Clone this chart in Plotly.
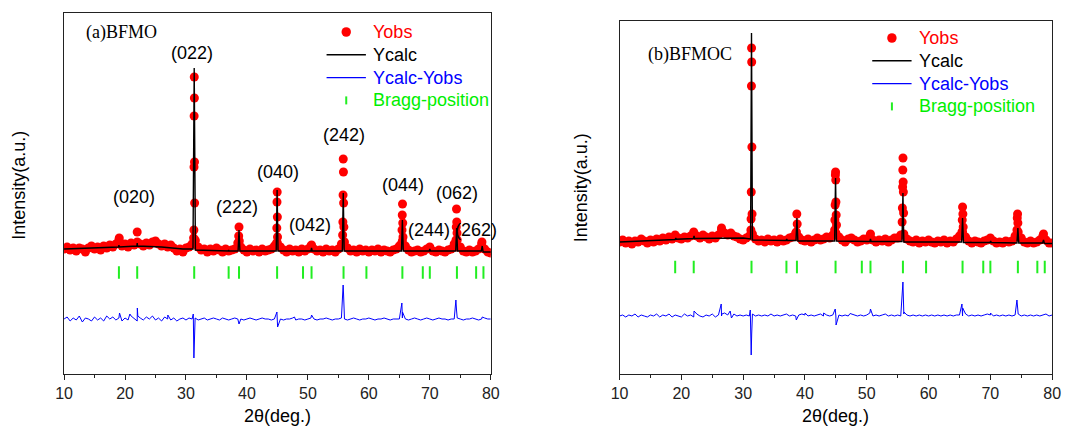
import numpy as np
import plotly.graph_objects as go

# 2-theta scan grid (deg) shared by both patterns
two_theta = np.round(np.arange(10.0, 80.001, 0.5), 2)

# ---------------- (a) BFMO ----------------
obs_a_base = [
    125, 127, 124, 126, 123, 126, 125, 122, 126, 128,
    125, 127, 124, 128, 126, 129, 127, 130, 134, 128,
    130, 127, 131, 129, 132, 130, 128, 131, 129, 132,
    133, 130, 128, 130, 127, 129, 126, 123, 125, 122,
    126, 127, 130, 133, 127, 124, 125, 122, 125, 123,
    126, 124, 122, 125, 123, 124, 125, 131, 127, 124,
    122, 125, 123, 124, 122, 125, 123, 124, 125, 128,
    131, 127, 124, 122, 125, 123, 124, 122, 125, 123,
    125, 128, 125, 123, 124, 122, 125, 123, 124, 122,
    125, 130, 132, 126, 123, 124, 122, 125, 123, 124,
    122, 124, 123, 125, 122, 124, 123, 122, 124, 125,
    128, 133, 128, 124, 122, 123, 124, 122, 123, 125,
    127, 123, 122, 124, 123, 122, 124, 125, 130, 134,
    127, 123, 122, 124, 122, 123, 125, 130, 125, 122,
    121,
]
obs_a_peak_x = [19.05, 22.0,
                31.25, 31.30, 31.32, 31.34, 31.36, 31.38, 31.40, 31.42, 31.50,
                38.65, 38.70, 38.75,
                44.85, 44.90, 44.93, 44.96, 44.99, 45.02,
                50.60,
                55.70, 55.74, 55.77, 55.80, 55.83, 55.86, 55.90,
                65.40, 65.44, 65.48, 65.52, 65.56, 65.60,
                74.30, 74.34, 74.38, 74.42, 74.46, 74.50,
                78.55]
obs_a_peak_y = [136, 142,
                136, 144, 207, 258, 297, 276, 212, 171, 134,
                138, 147, 133,
                131, 146, 172, 182, 157, 137,
                129,
                139, 152, 179, 215, 202, 171, 147,
                131, 144, 159, 170, 151, 137,
                134, 147, 165, 152, 141, 127,
                132]

calc_a_x = [10, 14, 18, 18.95, 19.0, 19.05, 21.95, 22.0, 22.05, 26, 29.5,
            31.15, 31.35, 31.55, 36.95, 37.0, 37.05, 38.55, 38.7, 38.85,
            44.8, 44.95, 45.1, 49.2, 50.5, 50.6, 50.7, 55.65, 55.8, 55.95,
            65.35, 65.5, 65.65, 69.9, 70.0, 70.1, 74.25, 74.4, 74.55,
            78.45, 78.6, 78.75, 80]
calc_a_y = [125, 126, 127, 127, 129, 127, 128, 131, 128, 127, 125,
            125, 306, 124, 123, 124, 123, 123, 144, 123,
            123, 184, 123, 123, 123, 126, 123, 123, 181, 123,
            123, 154, 123, 123, 125, 123, 123, 146, 123,
            123, 128, 122, 122]

diff_a_base = [
    55, 57, 53, 56, 54, 58, 52, 56, 55, 53,
    57, 54, 56, 53, 58, 55, 57, 54, 56, 53,
    56, 54, 58, 55, 53, 56, 54, 57, 55, 58,
    54, 56, 53, 57, 55, 54, 56, 53, 55, 56,
    54, 56, 55, 56, 54, 55, 56, 54, 55, 56,
    55, 54, 56, 55, 54, 55, 56, 55, 55, 54,
    55, 56, 55, 54, 55, 56, 55, 55, 54, 55,
    56, 55, 54, 55, 55, 56, 54, 55, 55, 54,
    55, 56, 55, 54, 55, 55, 56, 55, 54, 55,
    55, 56, 55, 54, 55, 56, 55, 54, 55, 55,
    56, 55, 54, 55, 55, 56, 55, 54, 55, 55,
    55, 56, 55, 54, 55, 56, 55, 54, 55, 56,
    55, 54, 55, 56, 55, 55, 54, 55, 55, 56,
    55, 54, 55, 55, 56, 55, 54, 55, 56, 55,
    55,
]
diff_a_spike_x = [19.1, 20.8, 22.02, 22.1, 27.02, 31.2, 31.3, 31.36, 31.42,
                  38.7, 44.92, 45.03, 47.8, 50.6, 55.78, 55.85, 55.92,
                  65.42, 65.52, 74.28, 74.38, 78.6]
diff_a_spike_y = [61, 60, 66, 58, 59, 60, 16, 30, 52,
                  50, 62, 47, 57, 59, 89, 80, 63,
                  71, 62, 74, 64, 57]

# ---------------- (b) BFMOC ----------------
obs_b_base = [
    132, 134, 131, 133, 130, 133, 132, 135, 133, 131,
    134, 132, 135, 133, 136, 134, 137, 135, 139, 136,
    135, 137, 136, 138, 142, 138, 136, 139, 137, 135,
    138, 136, 139, 144, 141, 139, 141, 138, 137, 135,
    134, 136, 138, 140, 135, 133, 134, 132, 135, 133,
    134, 132, 135, 133, 134, 136, 137, 141, 137, 134,
    133, 135, 132, 134, 136, 134, 135, 137, 136, 139,
    141, 137, 134, 132, 135, 136, 134, 132, 133, 135,
    134, 138, 134, 132, 134, 133, 135, 132, 134, 136,
    136, 139, 140, 135, 133, 132, 134, 131, 133, 132,
    134, 132, 131, 133, 132, 134, 131, 133, 132, 135,
    138, 142, 137, 133, 131, 133, 132, 131, 133, 134,
    136, 133, 131, 132, 131, 133, 132, 133, 138, 142,
    136, 132, 131, 133, 131, 132, 134, 138, 134, 131,
    131,
]
obs_b_peak_x = [26.5,
                31.25, 31.28, 31.31, 31.34, 31.36, 31.38, 31.41, 31.44,
                38.62, 38.68, 38.74,
                44.80, 44.84, 44.88, 44.92, 44.95, 44.98, 45.01, 45.05, 45.10,
                50.60,
                55.72, 55.76, 55.80, 55.83, 55.86, 55.89, 55.92, 55.96,
                65.40, 65.45, 65.50, 65.55, 65.60,
                74.30, 74.35, 74.40, 74.45, 74.50,
                78.60]
obs_b_peak_y = [146,
                144, 155, 182, 288, 326, 312, 227, 160,
                142, 160, 150,
                144, 154, 169, 199, 202, 194, 172, 159, 149,
                140,
                152, 166, 187, 204, 216, 192, 182, 161,
                142, 154, 167, 160, 147,
                144, 156, 160, 151, 137,
                140]

calc_b_x = [10, 15, 19.0, 19.1, 19.2, 21.95, 22.05, 22.15, 26, 30,
            31.2, 31.35, 31.5, 36.95, 37.05, 37.15, 38.55, 38.7, 38.85,
            44.8, 44.95, 45.1, 50.5, 50.6, 50.7, 55.7, 55.85, 56.0,
            65.35, 65.5, 65.65, 69.95, 70.05, 70.15, 74.3, 74.45, 74.6,
            78.45, 78.6, 78.75, 80]
calc_b_y = [132, 133, 134.5, 136, 134.8, 135.5, 138, 135.5, 136, 136,
            135, 341, 134, 133.5, 135, 133.5, 133.5, 156, 133,
            133, 196, 133, 132.5, 135, 132.5, 132.5, 181, 132,
            132, 156, 131.5, 131.5, 133, 131.5, 131, 146, 131,
            131, 134, 130.5, 130.5]

diff_b_base = [
    58, 59, 57, 59, 58, 60, 57, 59, 58, 57,
    59, 58, 60, 57, 59, 58, 60, 57, 59, 58,
    57, 60, 58, 59, 57, 60, 58, 57, 59, 58,
    60, 57, 59, 58, 61, 59, 57, 60, 58, 59,
    58, 59, 58, 60, 58, 59, 58, 59, 58, 60,
    58, 59, 58, 59, 60, 58, 59, 58, 59, 60,
    59, 58, 59, 58, 59, 60, 58, 59, 58, 59,
    58, 59, 58, 59, 58, 60, 59, 58, 59, 58,
    59, 61, 58, 59, 58, 59, 60, 58, 59, 58,
    59, 58, 60, 59, 58, 59, 58, 59, 58, 59,
    58, 59, 58, 59, 58, 59, 58, 59, 58, 59,
    59, 58, 60, 58, 59, 58, 59, 58, 59, 60,
    59, 58, 59, 58, 59, 58, 59, 58, 59, 60,
    58, 59, 58, 59, 58, 59, 58, 59, 60, 58,
    59,
]
diff_b_spike_x = [22.05, 26.45, 26.55, 27.9, 28.1, 31.15, 31.3, 31.38, 31.45,
                  38.6, 40.02, 43.02, 44.9, 45.03, 47.3, 50.6, 55.85, 55.93,
                  56.02, 65.4, 65.52, 70.02, 74.3, 74.4]
diff_b_spike_y = [63, 70, 60, 63, 56, 64, 19, 40, 55,
                  54, 61, 61, 65, 49, 60.5, 65, 92, 75,
                  62, 70, 66, 61, 74, 66]

# Bragg reflection positions (deg)
bragg_pos = [19.0, 22.0, 31.35, 37.0, 38.7, 44.95, 49.2, 50.6, 55.85,
             59.6, 65.5, 68.85, 70.0, 74.45, 77.6, 78.8]
bragg_level = {"a": 101.5, "b": 107}

# hkl labels for pattern (a)
hkl_labels = ["(020)", "(022)", "(222)", "(040)", "(042)", "(242)",
              "(044)", "(244)", "(062)", "(262)"]
hkl_x = [21.4, 31.0, 38.3, 45.05, 50.4, 55.85, 65.6, 69.9, 74.4, 77.6]
hkl_y = [177, 321, 167, 202, 149, 239, 189, 144, 181, 144]

legend_names = ["Yobs", "Ycalc", "Ycalc-Yobs", "Bragg-position"]


def merged(base, xs, ys):
    x = np.concatenate([two_theta, np.asarray(xs, float)])
    y = np.concatenate([np.asarray(base, float), np.asarray(ys, float)])
    order = np.argsort(x, kind="stable")
    return x[order], y[order]


SANS = "Liberation Sans, Arial, sans-serif"
SERIF = "Liberation Serif, Times New Roman, serif"
RED = "#ff0000"
BLUE = "#0000ff"
GREEN = "#22ee22"
LEGEND_TEXT = ["#ff0000", "#000000", "#0000ff", "#00ee00"]

fig = go.Figure()

panels = [
    ("a", "x", "y", obs_a_base, obs_a_peak_x, obs_a_peak_y,
     calc_a_x, calc_a_y, diff_a_base, diff_a_spike_x, diff_a_spike_y),
    ("b", "x2", "y2", obs_b_base, obs_b_peak_x, obs_b_peak_y,
     calc_b_x, calc_b_y, diff_b_base, diff_b_spike_x, diff_b_spike_y),
]

for (key, xa, ya, ob, opx, opy, cx, cy, db, dsx, dsy) in panels:
    ox, oy = merged(ob, opx, opy)
    dx, dy = merged(db, dsx, dsy)
    fig.add_trace(go.Scatter(
        x=ox, y=oy, mode="markers", xaxis=xa, yaxis=ya, name="Yobs",
        marker=dict(color=RED, size=9, line=dict(width=0))))
    fig.add_trace(go.Scatter(
        x=cx, y=cy, mode="lines", xaxis=xa, yaxis=ya, name="Ycalc",
        line=dict(color="black", width=1.4)))
    fig.add_trace(go.Scatter(
        x=dx, y=dy, mode="lines", xaxis=xa, yaxis=ya, name="Ycalc-Yobs",
        line=dict(color=BLUE, width=1)))
    fig.add_trace(go.Scatter(
        x=bragg_pos, y=[bragg_level[key]] * len(bragg_pos), mode="markers",
        xaxis=xa, yaxis=ya, name="Bragg-position",
        marker=dict(symbol="line-ns", size=9, color=GREEN,
                    line=dict(color=GREEN, width=2))))

W, H = 1071, 429


def px_x(v):
    return v / W


def px_y(v):
    return 1 - v / H


xcommon = dict(range=[10, 80], tick0=10, dtick=10, ticks="outside", ticklen=5,
               tickwidth=1.2, tickcolor="#222", showline=True, linecolor="#222",
               linewidth=1.2, mirror=True, showgrid=False, zeroline=False,
               tickfont=dict(family=SANS, size=16, color="#222"),
               minor=dict(dtick=5, ticks="outside", ticklen=3, tickwidth=1.2,
                          tickcolor="#222", showgrid=False))
ycommon = dict(showticklabels=False, ticks="", showline=True, linecolor="#222",
               linewidth=1.2, mirror=True, showgrid=False, zeroline=False)

fig.update_layout(
    width=W, height=H, margin=dict(l=0, r=0, t=0, b=0),
    paper_bgcolor="white", plot_bgcolor="white", showlegend=False,
    xaxis=dict(domain=[px_x(56), px_x(490)], anchor="y", **xcommon),
    yaxis=dict(domain=[px_y(374), px_y(13)], anchor="x", range=[0, 361], **ycommon),
    xaxis2=dict(domain=[px_x(621), px_x(1061)], anchor="y2", **xcommon),
    yaxis2=dict(domain=[px_y(374), px_y(21)], anchor="x2", range=[0, 353], **ycommon),
)

annotations = []
shapes = []
for lab, hx, hy in zip(hkl_labels, hkl_x, hkl_y):
    annotations.append(dict(text=lab, x=hx, y=hy, xref="x", yref="y",
                            showarrow=False, xanchor="center", yanchor="middle",
                            font=dict(family=SANS, size=18, color="black")))


def paper_text(text, x, y, font, xanchor="center", angle=0):
    return dict(text=text, x=px_x(x), y=px_y(y), xref="paper", yref="paper",
                xanchor=xanchor, yanchor="middle", showarrow=False,
                textangle=angle, font=font)


serif18 = dict(family=SERIF, size=18, color="black")
sans18 = dict(family=SANS, size=18, color="black")
annotations += [
    paper_text("(a)BFMO", 76, 33, serif18, "left"),
    paper_text("(b)BFMOC", 648, 55, serif18, "left"),
    paper_text("Intensity(a.u.)", 10, 185, sans18, angle=-90),
    paper_text("Intensity(a.u.)", 582, 188, sans18, angle=-90),
    paper_text("2θ(deg.)", 273, 416, sans18),
    paper_text("2θ(deg.)", 841, 416, sans18),
]

# hand-placed legend blocks: (symbol centre x, text left x, first row y, row step)
for sym_x, text_x, y0, step in [(343, 368, 32, 22.8), (898, 924, 38, 22.8)]:
    rows = [y0 + i * step for i in range(4)]
    r = 4.8
    shapes.append(dict(type="circle", xref="paper", yref="paper",
                       x0=px_x(sym_x - r), x1=px_x(sym_x + r),
                       y0=px_y(rows[0] + r), y1=px_y(rows[0] - r),
                       fillcolor=RED, line=dict(width=0)))
    shapes.append(dict(type="line", xref="paper", yref="paper",
                       x0=px_x(sym_x - 20), x1=px_x(sym_x + 20),
                       y0=px_y(rows[1]), y1=px_y(rows[1]),
                       line=dict(color="black", width=1.4)))
    shapes.append(dict(type="line", xref="paper", yref="paper",
                       x0=px_x(sym_x - 20), x1=px_x(sym_x + 20),
                       y0=px_y(rows[2]), y1=px_y(rows[2]),
                       line=dict(color=BLUE, width=1.2)))
    shapes.append(dict(type="line", xref="paper", yref="paper",
                       x0=px_x(sym_x), x1=px_x(sym_x),
                       y0=px_y(rows[3] - 4), y1=px_y(rows[3] + 4),
                       line=dict(color=GREEN, width=2)))
    for name, col, ry in zip(legend_names, LEGEND_TEXT, rows):
        annotations.append(paper_text(name, text_x, ry,
                                      dict(family=SANS, size=18, color=col),
                                      "left"))

fig.update_layout(annotations=annotations, shapes=shapes)

fig.write_html("out.html")
